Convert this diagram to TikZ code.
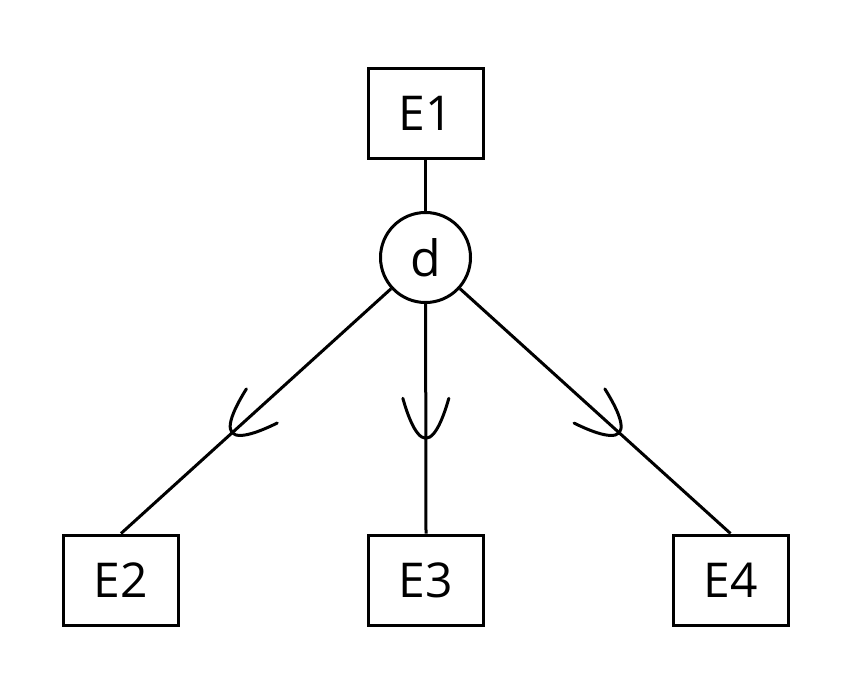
\documentclass[tikz,border=0pt]{standalone}
\usepackage{fontspec}
\setmainfont{Open Sans}
\usetikzlibrary{calc}
\begin{document}
\begin{tikzpicture}[x=1pt,y=1pt,
  ent/.style={draw,line width=3pt,minimum width=115pt,minimum height=90pt,inner sep=0pt,font=\fontsize{48}{50}\selectfont},
  disj/.style={draw,circle,line width=3pt,minimum size=90pt,inner sep=0pt,font=\fontsize{50}{52}\selectfont},
  conn/.style={line width=3pt},
  subsetarc/.style={line width=3pt,line cap=round}]
\useasboundingbox (0,0) rectangle (864,-686);
\node[ent] (E1) at (425.5,-113.5) {E1};
\node[disj] (d) at (425.5,-257.5) {d};
\node[ent] (E2) at (121,-580) {E2};
\node[ent] (E3) at (426,-580) {E3};
\node[ent] (E4) at (730.5,-580) {E4};
\draw[conn] (E1) -- (d);
\draw[conn] (d) -- (E2.north);
\draw[conn] (d) -- (E3.north);
\draw[conn] (d) -- (E4.north);
\coordinate (a2) at ($(d.center)!0.635!(E2.north)$);
\coordinate (a3) at ($(d.center)!0.655!(E3.north)$);
\coordinate (a4) at ($(d.center)!0.635!(E4.north)$);
\begin{scope}[shift={(a2)},rotate=-47.9]
\draw[subsetarc] (-23,40) parabola bend (0,0) (23,40);
\end{scope}
\begin{scope}[shift={(a3)}]
\draw[subsetarc] (-23,40) parabola bend (0,0) (23,40);
\end{scope}
\begin{scope}[shift={(a4)},rotate=48]
\draw[subsetarc] (-23,40) parabola bend (0,0) (23,40);
\end{scope}
\end{tikzpicture}
\end{document}
